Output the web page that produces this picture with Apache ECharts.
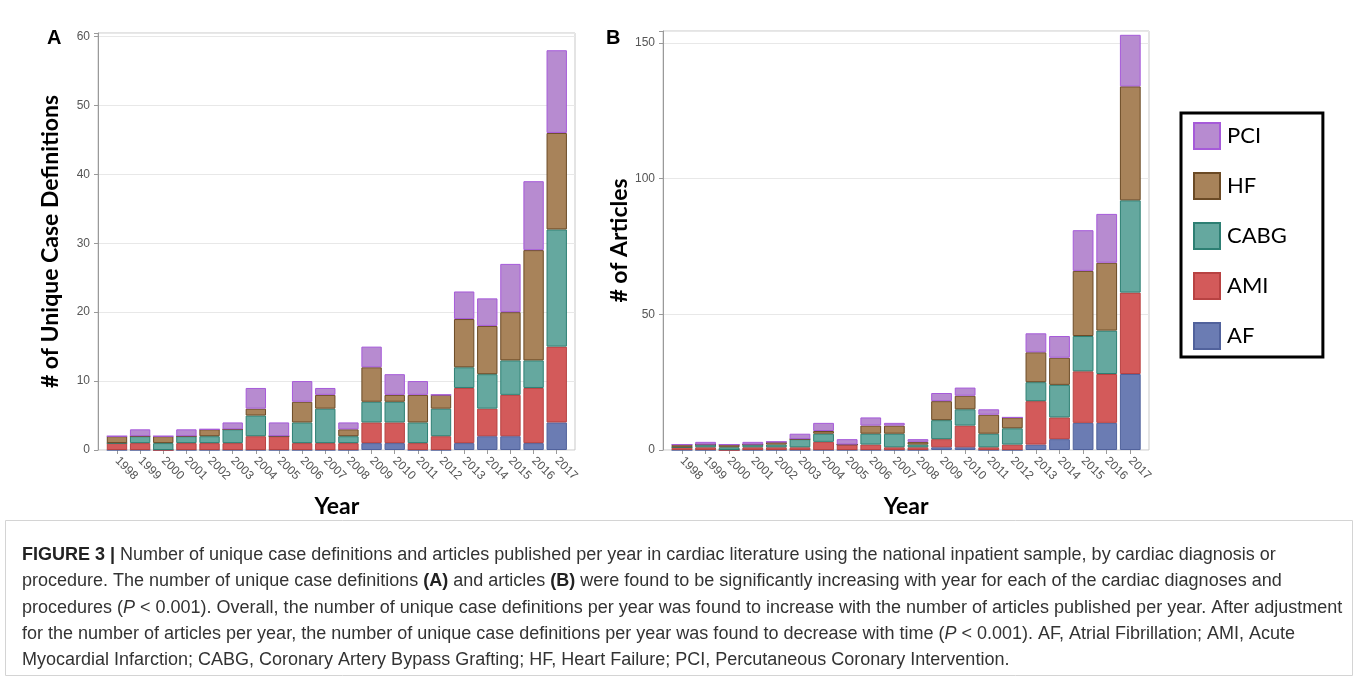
<!DOCTYPE html>
<html>
<head>
<meta charset="utf-8">
<script src="https://cdn.jsdelivr.net/npm/echarts@6/dist/echarts.min.js"></script>
<style>
html,body{margin:0;padding:0;background:#fff;}
#chart{width:1358px;height:681px;}
</style>
</head>
<body>
<div id="chart"></div>
<script>
// ---------- data ----------
const years = ['1998','1999','2000','2001','2002','2003','2004','2005','2006','2007','2008','2009','2010','2011','2012','2013','2014','2015','2016','2017'];
const seriesNames = ['AF','AMI','CABG','HF','PCI'];

// Panel A: # of unique case definitions
const defAF   = [0,0,0,0,0,0,0,0,0,0,0,1,1,0,0,1,2,2,1,4];
const defAMI  = [1,1,0,1,1,1,2,2,1,1,1,3,3,1,2,8,4,6,8,11];
const defCABG = [0,1,1,1,1,2,3,0,3,5,1,3,3,3,4,3,5,5,4,17];
const defHF   = [1,0,1,0,1,0,1,0,3,2,1,5,1,4,2,7,7,7,16,14];
const defPCI  = [0,1,0,1,0,1,3,2,3,1,1,3,3,2,0,4,4,7,10,12];

// Panel B: # of articles
const artAF   = [0,0,0,0,0,0,0,0,0,0,0,1,1,0,0,2,4,10,10,28];
const artAMI  = [1,1,0,1,1,1,3,2,2,1,1,3,8,1,2,16,8,19,18,30];
const artCABG = [0,1,1,1,1,3,3,0,4,5,1,7,6,5,6,7,12,13,16,34];
const artHF   = [1,0,1,0,1,0,1,0,3,3,1,7,5,7,4,11,10,24,25,42];
const artPCI  = [0,1,0,1,0,2,3,2,3,1,1,3,3,2,0,7,8,15,18,19];

const captionLines = [
  '{b|FIGURE 3 |} Number of unique case definitions and articles published per year in cardiac literature using the national inpatient sample, by cardiac diagnosis or',
  'procedure. The number of unique case definitions {b|(A)} and articles {b|(B)} were found to be significantly increasing with year for each of the cardiac diagnoses and',
  'procedures ({i|P} < 0.001). Overall, the number of unique case definitions per year was found to increase with the number of articles published per year. After adjustment',
  'for the number of articles per year, the number of unique case definitions per year was found to decrease with time ({i|P} < 0.001). AF, Atrial Fibrillation; AMI, Acute',
  'Myocardial Infarction; CABG, Coronary Artery Bypass Grafting; HF, Heart Failure; PCI, Percutaneous Coronary Intervention.'
];

// ---------- styles ----------
const fills   = {AF:'#6b7cb3', AMI:'#d35a5a', CABG:'#65a89f', HF:'#a8835a', PCI:'#b78bd0'};
const borders = {AF:'#51629c', AMI:'#b84242', CABG:'#2d7f73', HF:'#6b4a25', PCI:'#a65ad9'};

const dataA = {AF:defAF, AMI:defAMI, CABG:defCABG, HF:defHF, PCI:defPCI};
const dataB = {AF:artAF, AMI:artAMI, CABG:artCABG, HF:artHF, PCI:artPCI};

const tickColor = '#9a9a9a';
const labelColor = '#555';
const titleFont = {fontFamily:'Lato', fontWeight:'bold', fontSize:23, color:'#000'};
const capFontSize = 18;

function makeSeries(data, xi, yi, stack){
  return seriesNames.map(n => ({
    name:n, type:'bar', stack:stack, xAxisIndex:xi, yAxisIndex:yi,
    data:data[n], barCategoryGap:'12%',
    itemStyle:{color:fills[n], borderColor:borders[n], borderWidth:1},
    emphasis:{disabled:true}
  }));
}

const chart = echarts.init(document.getElementById('chart'), null, {renderer:'canvas'});

const graphics = [
  {type:'text', left:47, top:28, style:{text:'A', font:'bold 20px "Liberation Sans", Arial', fill:'#000'}},
  {type:'text', left:606, top:28, style:{text:'B', font:'bold 20px "Liberation Sans", Arial', fill:'#000'}},
  {type:'rect', shape:{x:5.5, y:520.5, width:1347, height:155}, style:{fill:'none', stroke:'#d4d4d4', lineWidth:1}}
];
const capTops = [546, 572, 599, 625, 651];
captionLines.forEach((t,i) => {
  graphics.push({type:'text', left:22, top:capTops[i], style:{
    text:t, font:capFontSize + 'px "Liberation Sans", Arial', fill:'#333',
    rich:{ b:{fontWeight:'bold', fontSize:capFontSize, fontFamily:'Liberation Sans', fill:'#222', color:'#222'},
           i:{fontStyle:'italic', fontSize:capFontSize, fontFamily:'Liberation Sans', fill:'#333', color:'#333'} }
  }});
});

const option = {
  animation:false,
  backgroundColor:'#fff',
  legend:{
    data:['PCI','HF','CABG','AMI','AF'],
    orient:'vertical', left:1181, top:113,
    itemWidth:26, itemHeight:26, itemGap:22, icon:'rect',
    borderColor:'#000', borderWidth:3,
    padding:[9,36,7,12],
    textStyle:{fontFamily:'Lato', fontSize:22, color:'#000', padding:[0,0,0,2]},
    selectedMode:false
  },
  grid:[
    {left:98, top:33, width:477, height:417, show:true, borderColor:'#c9c9c9', borderWidth:1},
    {left:105.4, top:33, width:462.9, height:417},
    {left:663, top:31, width:486, height:419, show:true, borderColor:'#c9c9c9', borderWidth:1},
    {left:670.2, top:31, width:471.9, height:419}
  ],
  xAxis:[
    {gridIndex:0, type:'value', min:0, max:1, show:false},
    {gridIndex:1, type:'category', data:years,
      axisLine:{show:false},
      axisTick:{show:true, alignWithLabel:true, length:4, lineStyle:{color:tickColor}},
      axisLabel:{rotate:-45, interval:0, fontSize:12, color:labelColor, fontFamily:'Liberation Sans', margin:9},
      name:'Year', nameLocation:'middle', nameGap:45, nameTextStyle:titleFont},
    {gridIndex:2, type:'value', min:0, max:1, show:false},
    {gridIndex:3, type:'category', data:years,
      axisLine:{show:false},
      axisTick:{show:true, alignWithLabel:true, length:4, lineStyle:{color:tickColor}},
      axisLabel:{rotate:-45, interval:0, fontSize:12, color:labelColor, fontFamily:'Liberation Sans', margin:9},
      name:'Year', nameLocation:'middle', nameGap:45, nameTextStyle:titleFont}
  ],
  yAxis:[
    {gridIndex:0, type:'value', min:0, max:60.5, interval:10,
      axisLine:{show:true, lineStyle:{color:tickColor}},
      axisTick:{show:true, length:4, lineStyle:{color:tickColor}},
      axisLabel:{fontSize:12, color:labelColor, fontFamily:'Liberation Sans', margin:8,
        formatter:v => (v % 10 === 0 ? String(v) : '')},
      splitLine:{show:true, lineStyle:{color:'#e8e8e8'}},
      name:'# of Unique Case Definitions', nameLocation:'middle', nameGap:36, nameTextStyle:titleFont},
    {gridIndex:1, type:'value', min:0, max:60.5, show:false},
    {gridIndex:2, type:'value', min:0, max:154.4, interval:50,
      axisLine:{show:true, lineStyle:{color:tickColor}},
      axisTick:{show:true, length:4, lineStyle:{color:tickColor}},
      axisLabel:{fontSize:12, color:labelColor, fontFamily:'Liberation Sans', margin:8,
        formatter:v => (v % 50 === 0 ? String(v) : '')},
      splitLine:{show:true, lineStyle:{color:'#e8e8e8'}},
      name:'# of Articles', nameLocation:'middle', nameGap:32, nameTextStyle:titleFont},
    {gridIndex:3, type:'value', min:0, max:154.4, show:false}
  ],
  series:[].concat(makeSeries(dataA,1,1,'A'), makeSeries(dataB,3,3,'B')),
  graphic:graphics
};
chart.setOption(option);
</script>
</body>
</html>
